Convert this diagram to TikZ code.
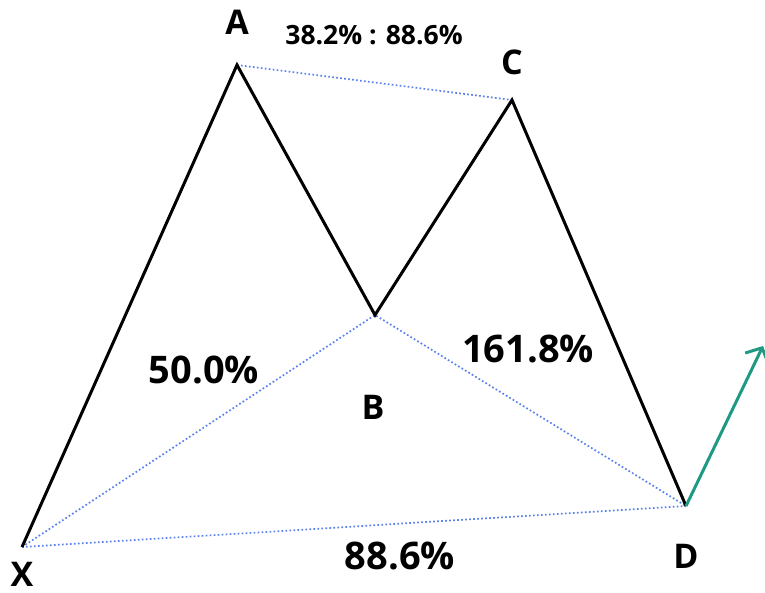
\documentclass[tikz,border=0pt]{standalone}
\usepackage{fontspec}
\setmainfont{Open Sans}
\usetikzlibrary{arrows.meta}
\definecolor{dotblue}{HTML}{5A80EE}
\definecolor{arrowgreen}{HTML}{1E9A82}
\tikzset{
  leg/.style={line width=3pt, black, line join=miter},
  guide/.style={line width=1.7pt, dotblue, dash pattern=on 1.7pt off 2.3pt},
  up/.style={line width=3pt, arrowgreen, -{Straight Barb[length=12pt, width=26pt, line width=3pt]}},
  pt/.style={font=\fontsize{34}{34}\selectfont\bfseries, inner sep=0pt},
  pct/.style={font=\fontsize{38}{38}\selectfont\bfseries, inner sep=0pt},
  small/.style={font=\fontsize{26.5}{26.5}\selectfont\bfseries, inner sep=0pt}
}
\begin{document}
\begin{tikzpicture}[x=1pt,y=-1pt]
\useasboundingbox (0,0) rectangle (765,593);
\coordinate (X) at (22,547);
\coordinate (A) at (237,65);
\coordinate (B) at (375,315);
\coordinate (C) at (512,100);
\coordinate (D) at (686,506);
\coordinate (E) at (763,346);
\draw[guide] (A) -- (C);
\draw[guide] (X) -- (B) -- (D);
\draw[guide] (X) -- (D);
\draw[leg] (X) -- (A) -- (B) -- (C) -- (D);
\draw[up] (D) -- (E);
\node[pt] (lA) at (237,22) {A};
\node[pt] (lC) at (512,62) {C};
\node[pt] (lB) at (373,407) {B};
\node[pt] (lX) at (22,574) {X};
\node[pt] (lD) at (686,556) {D};
\node[small] (r1) at (374,35) {38.2\% : 88.6\%};
\node[pct] (r2) at (204,370) {50.0\%};
\node[pct] (r3) at (528,349) {161.8\%};
\node[pct] (r4) at (400,556) {88.6\%};
\end{tikzpicture}
\end{document}
